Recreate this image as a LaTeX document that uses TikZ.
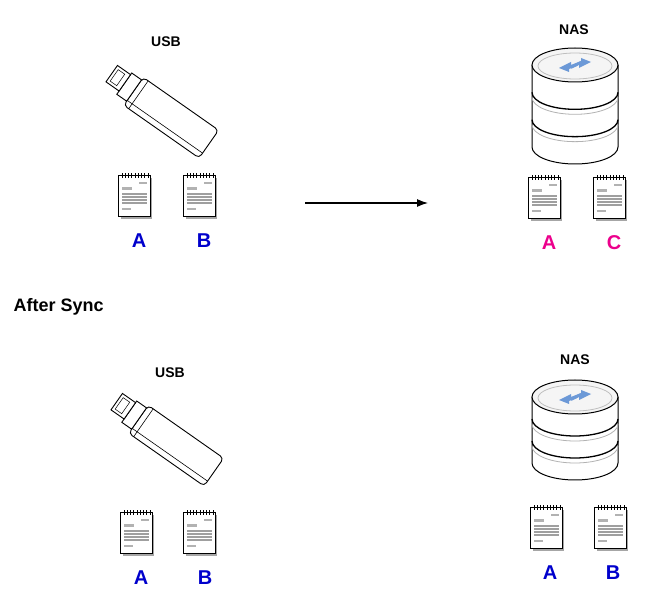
\documentclass[tikz,border=0pt]{standalone}
\usepackage{fontspec}
\setmainfont{Liberation Sans}
\usetikzlibrary{arrows.meta}
\begin{document}
\begin{tikzpicture}[x=1pt,y=-1pt,
  lbl/.style={font=\bfseries\fontsize{14}{14}\selectfont},
  let/.style={font=\bfseries\fontsize{20}{20}\selectfont},
  doc/.pic={
    \begin{scope}[scale=1.08]
    \fill[gray!70] (-13,-17) rectangle (16,21);
    \draw[fill=white,line width=0.8] (-15,-19) rectangle (14,19);
    \foreach \i in {-12,-9,...,12} \draw[line width=0.9] (\i,-21) -- (\i,-17);
    \fill[gray!60] (4,-13) rectangle (11,-11);
    \fill[gray!60] (-12,-8) rectangle (-3,-6);
    \foreach \yy in {-3,0,3,6} \fill[gray!75] (-12,\yy) rectangle (11,\yy+1.8);
    \fill[gray!60] (-12,11) rectangle (-4,13);
    \end{scope}
  },
  usb/.pic={
    \begin{scope}[rotate=-35]
      \draw[fill=white,line width=0.9,rounded corners=4] (-36,-17) rectangle (56,17);
      \draw[line width=0.6] (-36,11) -- (56,11);
      \draw[line width=0.6] (-30,-17) -- (-30,17);
      \draw[fill=white,line width=0.9] (-48,-14) rectangle (-36,12);
      \draw[fill=white,line width=0.9] (-64,-12) rectangle (-48,8);
      \draw[line width=0.5] (-61,-9) rectangle (-53,5);
    \end{scope}
  },
  nas/.pic={
    \draw[fill=white,line width=1] (-43,0) -- (-43,#1) arc[start angle=180,end angle=0,x radius=43,y radius=17] -- (43,0);
    \foreach \b in {1,2} {
      \draw[gray!60,line width=0.8] (-43,\b*#1/3+5) arc[start angle=180,end angle=0,x radius=43,y radius=17];
      \draw[line width=1.3] (-43,\b*#1/3) arc[start angle=180,end angle=0,x radius=43,y radius=17];
    }
    \draw[fill=gray!8,line width=1] (0,0) ellipse[x radius=43,y radius=17];
    \draw[gray!50,line width=0.8] (0,1) ellipse[x radius=37,y radius=13];
    \fill[cyan!50!blue!60] (-16,3) -- (-4,-3) -- (-4,0) -- (6,-4) -- (2,1) -- (-6,4) -- (-6,7) -- cycle;
    \fill[cyan!50!blue!60] (16,-3) -- (4,3) -- (4,0) -- (-4,4) -- (0,-1) -- (6,-4) -- (6,-7) -- cycle;
  }]
\useasboundingbox (0,0) rectangle (662,593);
% top
\node[lbl] (usb1) at (166,42) {USB};
\pic at (163,112) {usb};
\pic at (135,196) {doc};
\pic at (200,196) {doc};
\node[let,text=blue!80!black] (a1) at (139,241) {A};
\node[let,text=blue!80!black] (b1) at (204,241) {B};
\coordinate (s) at (305,203);
\coordinate (e) at (428,203);
\draw[-{Latex[length=11pt,width=8pt]},line width=1.2] (s) -- (e);
\node[lbl] (nas1) at (574,30) {NAS};
\pic at (575,65) {nas=82};
\pic at (545,198) {doc};
\pic at (610,198) {doc};
\node[let,text=magenta] (a2) at (549,243) {A};
\node[let,text=magenta] (c2) at (614,243) {C};
% after
\node[font=\bfseries\fontsize{18}{18}\selectfont,anchor=west] (after) at (10,307) {After Sync};
\node[lbl] (usb2) at (170,373) {USB};
\pic at (168,440) {usb};
\pic at (137,533) {doc};
\pic at (200,533) {doc};
\node[let,text=blue!80!black] (a3) at (141,578) {A};
\node[let,text=blue!80!black] (b3) at (205,578) {B};
\node[lbl] (nas2) at (575,360) {NAS};
\pic at (575,397) {nas=66};
\pic at (547,528) {doc};
\pic at (611,528) {doc};
\node[let,text=blue!80!black] (a4) at (550,573) {A};
\node[let,text=blue!80!black] (b4) at (613,573) {B};
\end{tikzpicture}
\end{document}
